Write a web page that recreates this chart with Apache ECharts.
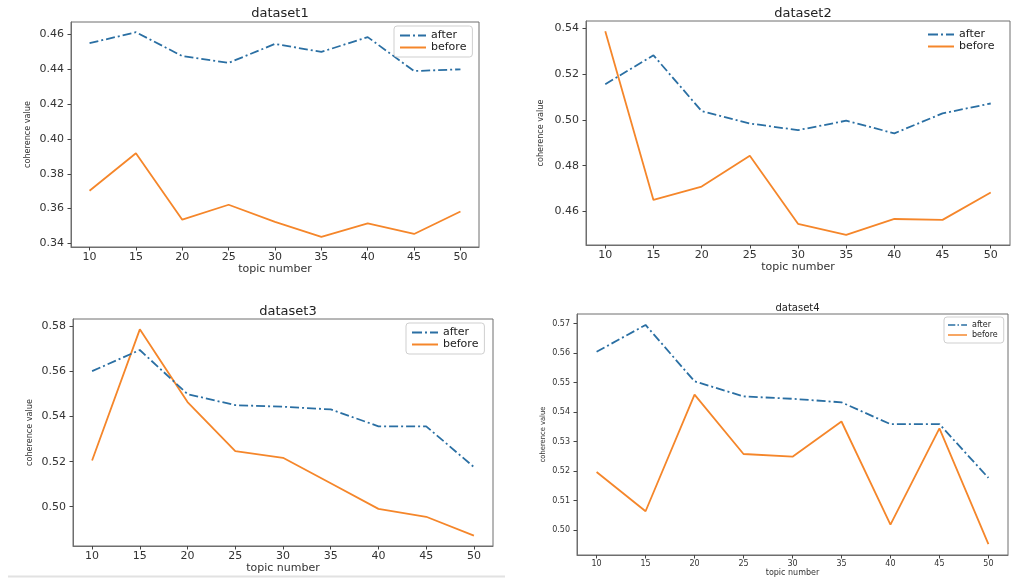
<!DOCTYPE html>
<html>
<head>
<meta charset="utf-8">
<script src="https://cdn.jsdelivr.net/npm/echarts@6.0.0/dist/echarts.min.js"></script>
<style>
  html, body { margin: 0; padding: 0; background: #fff; }
  #chart { width: 1022px; height: 578px; }
</style>
</head>
<body>
<div id="chart"></div>
<script>
    // x values shared by all four panels
    const topicNumbers = [10, 15, 20, 25, 30, 35, 40, 45, 50];
    const xTicks = [10, 15, 20, 25, 30, 35, 40, 45, 50];

    const after1 = [0.4550, 0.4613, 0.4476, 0.4437, 0.4546, 0.4500, 0.4585, 0.4390, 0.4400];
    const before1 = [0.3702, 0.3918, 0.3536, 0.3622, 0.3524, 0.3438, 0.3515, 0.3454, 0.3583];
    const yTicks1 = [0.34, 0.36, 0.38, 0.40, 0.42, 0.44, 0.46];

    const after2 = [0.5155, 0.5281, 0.5038, 0.4984, 0.4955, 0.4996, 0.4941, 0.5028, 0.5071];
    const before2 = [0.5386, 0.4651, 0.4709, 0.4843, 0.4547, 0.4499, 0.4568, 0.4564, 0.4683];
    const yTicks2 = [0.46, 0.48, 0.50, 0.52, 0.54];

    const after3 = [0.5602, 0.5696, 0.5500, 0.5451, 0.5444, 0.5432, 0.5357, 0.5357, 0.5176];
    const before3 = [0.5205, 0.5788, 0.5465, 0.5247, 0.5217, 0.5104, 0.4990, 0.4955, 0.4871];
    const yTicks3 = [0.50, 0.52, 0.54, 0.56, 0.58];

    const after4 = [0.5604, 0.5695, 0.5504, 0.5453, 0.5445, 0.5433, 0.5359, 0.5359, 0.5177];
    const before4 = [0.5197, 0.5064, 0.5459, 0.5258, 0.5249, 0.5368, 0.5019, 0.5345, 0.4953];
    const yTicks4 = [0.50, 0.51, 0.52, 0.53, 0.54, 0.55, 0.56, 0.57];

    const titles = ['dataset1', 'dataset2', 'dataset3', 'dataset4'];
    const afterColor = '#2a6fa3';
    const beforeColor = '#f5862a';
    const FONT = '"DejaVu Sans", sans-serif';
    const FONT_NARROW = '"DejaVu Sans Condensed", "DejaVu Sans", sans-serif';

    // legend swatches: dash-dot for "after", plain bar for "before"
    const DASHDOT_ICON = 'path://M0 0h10v2h-10z M13 0h2v2h-2z M18 0h8v2h-8z';
    const SOLID_ICON = 'path://M0 0h26v2h-26z';

    // one entry per panel: where it sits and how big its text is
    const panels = [
        { grid: { left: 71, top: 22, width: 408, height: 225 }, after: after1, before: before1, ticks: yTicks1,
          fs: 11, title: 13, titleTop: 2, yGap: 39, xGap: 14, nameFs: 9, xNameFs: 11,
          legend: { left: 394, top: 26, border: true, iw: 26, pad: 6, gap: 1 } },
        { grid: { left: 586, top: 21, width: 424, height: 224 }, after: after2, before: before2, ticks: yTicks2,
          fs: 11, title: 13, titleTop: 2, yGap: 41, xGap: 14, nameFs: 9, xNameFs: 11,
          legend: { left: 922, top: 25, border: false, iw: 26, pad: 6, gap: 1 } },
        { grid: { left: 73, top: 319, width: 420, height: 227 }, after: after3, before: before3, ticks: yTicks3,
          fs: 11, title: 13, titleTop: 300, yGap: 39, xGap: 14, nameFs: 9, xNameFs: 11,
          legend: { left: 406, top: 323, border: true, iw: 26, pad: 6, gap: 1 } },
        { grid: { left: 577, top: 314, width: 431, height: 241 }, after: after4, before: before4, ticks: yTicks4,
          fs: 8, title: 10, titleTop: 298, yGap: 30, xGap: 12, nameFs: 7.5, xNameFs: 8,
          legend: { left: 944, top: 317, border: true, iw: 19, pad: 4, gap: 2 } },
    ];

    // matplotlib style 5% padding around the data
    function paddedRange(a, b) {
        const all = a.concat(b);
        const lo = Math.min(...all);
        const hi = Math.max(...all);
        const pad = (hi - lo) * 0.05;
        return [lo - pad, hi + pad];
    }

    const chart = echarts.init(document.getElementById('chart'), null, { renderer: 'canvas' });

    const option = {
        backgroundColor: '#fff',
        animation: false,
        title: [],
        legend: [],
        grid: [],
        xAxis: [],
        yAxis: [],
        series: [],
        graphic: [
            {
                type: 'line',
                shape: { x1: 8, y1: 576.5, x2: 505, y2: 576.5 },
                style: { stroke: '#e2e2e2', lineWidth: 2 },
            },
        ],
    };

    panels.forEach((p, i) => {
        const range = paddedRange(p.after, p.before);
        const centerX = p.grid.left + p.grid.width / 2;

        option.title.push({
            text: titles[i],
            left: centerX,
            top: p.titleTop,
            textAlign: 'center',
            textStyle: { fontFamily: FONT, fontSize: p.title, fontWeight: 'normal', color: '#222' },
        });

        option.legend.push({
            orient: 'vertical',
            left: p.legend.left,
            top: p.legend.top,
            padding: [4, 6, 4, p.legend.pad],
            itemWidth: p.legend.iw,
            itemHeight: 2,
            itemGap: p.legend.gap,
            borderColor: p.legend.border ? '#cfcfcf' : 'transparent',
            borderWidth: 1,
            borderRadius: 3,
            backgroundColor: '#fff',
            textStyle: { fontFamily: FONT, fontSize: p.fs, color: '#222' },
            data: [
                { name: 'after', icon: DASHDOT_ICON },
                { name: 'before', icon: SOLID_ICON },
            ],
        });

        option.grid.push({
            left: p.grid.left,
            top: p.grid.top,
            width: p.grid.width,
            height: p.grid.height,
            show: true,
            borderColor: '#6e6e6e',
            borderWidth: 1,
            backgroundColor: 'transparent',
        });

        option.xAxis.push({
            type: 'value',
            gridIndex: i,
            min: 8,
            max: 52,
            name: 'topic number',
            nameLocation: 'middle',
            nameGap: p.xGap,
            nameTextStyle: { fontFamily: FONT, fontSize: p.xNameFs, color: '#333' },
            axisLine: { show: true, lineStyle: { color: '#6e6e6e', width: 1 } },
            axisTick: { show: true, customValues: xTicks, length: 3.5, inside: false, lineStyle: { color: '#444' } },
            axisLabel: { customValues: xTicks, fontFamily: FONT, fontSize: p.fs, color: '#333', margin: 5 },
            splitLine: { show: false },
        });

        option.yAxis.push({
            type: 'value',
            gridIndex: i,
            min: range[0],
            max: range[1],
            name: 'coherence value',
            nameLocation: 'middle',
            nameGap: p.yGap,
            nameTextStyle: { fontFamily: FONT_NARROW, fontSize: p.nameFs, color: '#333' },
            axisLine: { show: true, lineStyle: { color: '#6e6e6e', width: 1 } },
            axisTick: { show: true, customValues: p.ticks, length: 3.5, lineStyle: { color: '#444' } },
            axisLabel: {
                customValues: p.ticks,
                fontFamily: FONT,
                fontSize: p.fs,
                color: '#333',
                margin: 7,
                formatter: (v) => v.toFixed(2),
            },
            splitLine: { show: false },
        });

        option.series.push({
            name: 'after',
            type: 'line',
            xAxisIndex: i,
            yAxisIndex: i,
            data: topicNumbers.map((x, k) => [x, p.after[k]]),
            symbol: 'none',
            color: afterColor,
            lineStyle: { color: afterColor, width: 1.8, type: [9, 3, 2, 3] },
            z: 3,
        });

        option.series.push({
            name: 'before',
            type: 'line',
            xAxisIndex: i,
            yAxisIndex: i,
            data: topicNumbers.map((x, k) => [x, p.before[k]]),
            symbol: 'none',
            color: beforeColor,
            lineStyle: { color: beforeColor, width: 1.8 },
            z: 2,
        });
    });

    chart.setOption(option);
</script>
</body>
</html>
